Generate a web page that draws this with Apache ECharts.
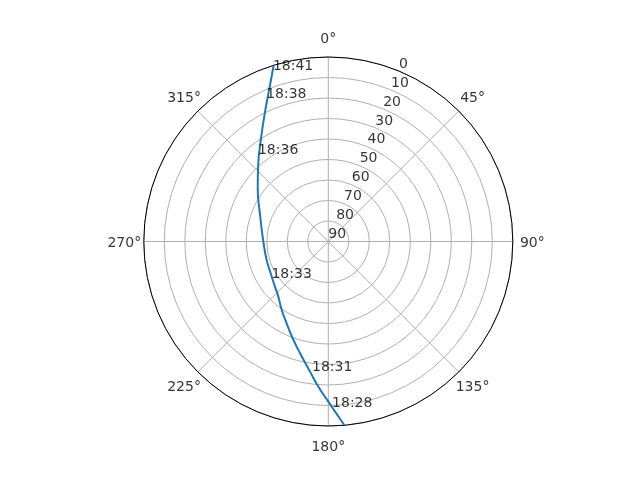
<!DOCTYPE html>
<html><head><meta charset="utf-8">
<script src="https://cdn.jsdelivr.net/npm/echarts@6/dist/echarts.min.js"></script>
<style>html,body{margin:0;padding:0;background:#fff}#c{width:640px;height:480px}</style>
</head><body><div id="c"></div>
<script>
// pass track, in time order (azimuth in degrees, elevation in degrees)
const azimuth   = [175.0, 180.0, 183.9, 188.0, 194.2, 200.0, 207.0, 214.2, 222.2, 231.0, 241.1, 253.3, 270.0, 291.2, 307.0, 317.5, 326.9, 334.0, 339.6, 342.7];
const elevation = [0.0,   11.9,  19.0,  25.9,  33.8,  39.5,  45.2,  49.6,  53.7,  56.2,  57.9,  58.6,  58.3,  54.3,  46.9,  39.4,  29.9,  19.6,  8.5,   0.2];
// time annotations
const timeLabels    = ['18:28', '18:31', '18:33', '18:36', '18:38', '18:41'];
const timeAzimuth   = [178.7, 187.1, 236.4, 320.9, 336.4, 342.0];
const timeElevation = [8.8, 25.7, 56.7, 35.6, 14.3, 2.6];
// tick labels
const angleTicks  = [0, 45, 90, 135, 180, 225, 270, 315];
const radialTicks = [0, 10, 20, 30, 40, 50, 60, 70, 80, 90];
const radialLabelAngle = 22.5;

const FONT = 'DejaVu Sans';
const ANGLE_PAD = 19.5; // px beyond outer circle for angle labels
const chart = echarts.init(document.getElementById('c'));
chart.setOption({
  animation: false,
  backgroundColor: '#fff',
  polar: { center: [328.3, 241.5], radius: 184.5 },
  angleAxis: {
    type: 'value', min: 0, max: 360, interval: 45,
    startAngle: 90, clockwise: true,
    axisLine: { lineStyle: { color: '#000', width: 1 } },
    axisTick: { show: false },
    axisLabel: { show: false },
    splitLine: { show: true, lineStyle: { color: '#b0b0b0', width: 1 } }
  },
  radiusAxis: {
    type: 'value', min: 0, max: 90, interval: 10, inverse: true,
    axisLine: { show: false }, axisTick: { show: false }, axisLabel: { show: false },
    splitLine: { show: true, lineStyle: { color: '#b0b0b0', width: 1 } }
  },
  series: [
    {
      type: 'line', coordinateSystem: 'polar', symbol: 'none', smooth: 0.5,
      lineStyle: { color: '#1f77b4', width: 2 },
      data: elevation.map((e, i) => [e, azimuth[i]]),
      z: 3
    },
    {
      type: 'scatter', coordinateSystem: 'polar', symbolSize: 0, silent: true, clip: false,
      data: radialTicks.map(v => [v, radialLabelAngle]),
      label: {
        show: true, position: 'inside', align: 'left', verticalAlign: 'middle',
        offset: [0, -7], formatter: p => String(p.value[0]),
        color: '#000', fontSize: 14, fontFamily: FONT
      },
      z: 4
    },
    {
      type: 'scatter', coordinateSystem: 'polar', symbolSize: 0, silent: true, clip: false,
      data: angleTicks.map(a => {
        const t = a * Math.PI / 180;
        return {
          value: [0, a],
          label: { offset: [ANGLE_PAD * Math.sin(t), -ANGLE_PAD * Math.cos(t) + 1.5] }
        };
      }),
      label: {
        show: true, position: 'inside', align: 'center', verticalAlign: 'middle',
        formatter: p => p.value[1] + '°',
        color: '#000', fontSize: 14, fontFamily: FONT
      },
      z: 4
    },
    {
      type: 'scatter', coordinateSystem: 'polar', symbolSize: 0, silent: true, clip: false,
      data: timeLabels.map((t, i) => ({ name: t, value: [timeElevation[i], timeAzimuth[i]] })),
      label: {
        show: true, position: 'inside', align: 'left', verticalAlign: 'middle',
        offset: [0, -5], formatter: p => p.name,
        color: '#000', fontSize: 14, fontFamily: FONT
      },
      z: 5
    }
  ]
});
</script></body></html>
